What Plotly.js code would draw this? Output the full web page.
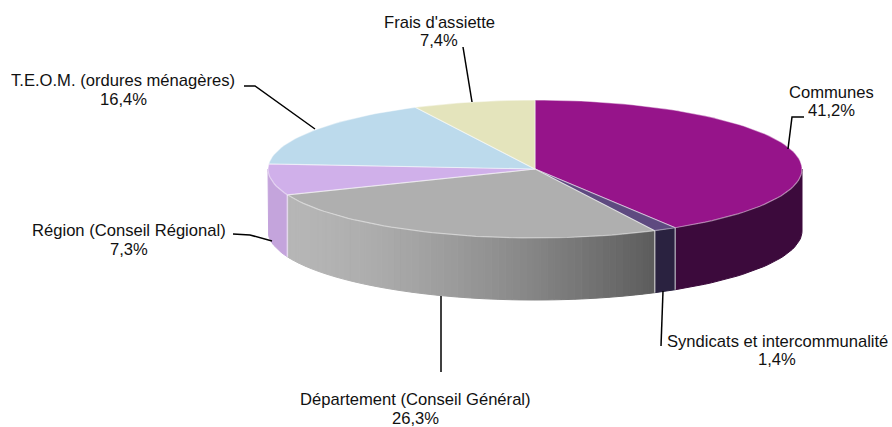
<!DOCTYPE html>
<html>
<head>
<meta charset="utf-8">
<script src="https://cdn.plot.ly/plotly-3.0.1.min.js"></script>
<style>html,body{margin:0;padding:0;background:#fff}#chart{width:892px;height:427px}</style>
</head>
<body>
<div id="chart"></div>
<script>
// Data, clockwise from the top of the pie
const categories = ["Communes", "Syndicats et intercommunalité", "Département (Conseil Général)", "Région (Conseil Régional)", "T.E.O.M. (ordures ménagères)", "Frais d'assiette"];
const shares = [41.2, 1.4, 26.3, 7.3, 16.4, 7.4];

// Styles
const topColors = ["#96148A", "#5E4A80", "#AFAFAF", "#D0B0EA", "#BCDAEC", "#E4E4BC"];
const wallColors = ["#3C0A3C", "#2A2240", null, "#C4A4DC", "#A0B8C8", "#C0C09C"];
const grayFrom = 182, grayDrop = 90;
const edge = "rgba(255,255,255,0.45)";
const labelSize = 16.6, lineGap = 18.5, labelBox = 17;

// Pie geometry
const cx = 535, cy = 169, rx = 267, ry = 69, depth = 62;

// Label and leader placement
const labelX = [831, 777, 415, 129, 123, 439];
const labelY = [101.5, 350.5, 409.2, 240, 90, 31.5];
const leaderX = [[804, 792, 788], [663, 661], [441, 441], [233, 250, 272], [244, 255, 315], [463, 472]];
const leaderY = [[117, 117, 149], [291, 346], [296, 372], [234, 235, 241], [86, 86, 129], [47, 102]];

const px = a => cx + rx * Math.sin(a * Math.PI / 180);
const py = a => cy - ry * Math.cos(a * Math.PI / 180);
const total = shares.reduce((s, v) => s + v, 0);
let run = 0;
const spans = shares.map(v => { const a0 = run / total * 360; run += v; return [a0, run / total * 360]; });

function arc(a0, a1) {
  const n = Math.max(2, Math.ceil((a1 - a0) / 2)), out = [];
  for (let i = 0; i <= n; i++) out.push(a0 + (a1 - a0) * i / n);
  return out;
}
const traces = [];
function poly(xs, ys, fill, line, w) {
  traces.push({type: "scatter", mode: "lines", x: xs, y: ys, fill: "toself", fillcolor: fill,
    line: {color: line || fill, width: w === undefined ? 1 : w}, hoverinfo: "skip", showlegend: false});
}
function wall(a0, a1, color) {
  const as = arc(a0, a1);
  const xs = as.map(px).concat(as.slice().reverse().map(px));
  const ys = as.map(a => py(a)).concat(as.slice().reverse().map(a => py(a) + depth));
  xs.push(xs[0]); ys.push(ys[0]);
  poly(xs, ys, color);
}
// Side walls: only the front half of the disc shows
spans.forEach(([a0, a1], i) => {
  const s = Math.max(a0, 90), e = Math.min(a1, 270);
  if (e <= s) return;
  if (wallColors[i]) { wall(s, e, wallColors[i]); return; }
  // Shaded wall: strips darken towards the right
  const strips = Math.round((e - s) / 1.5);
  for (let k = 0; k < strips; k++) {
    const t = (k + 0.5) / strips;
    const toRight = (px(s + (e - s) * t) - px(e)) / (px(s) - px(e));
    const g = Math.round(grayFrom - grayDrop * Math.pow(toRight, 1.5));
    wall(s + (e - s) * k / strips, s + (e - s) * (k + 1) / strips, `rgb(${g},${g},${g})`);
  }
});
// Light seams between walls
spans.forEach(([a0]) => {
  if (a0 > 90 && a0 < 270) {
    traces.push({type: "scatter", mode: "lines", x: [px(a0), px(a0)], y: [py(a0), py(a0) + depth],
      line: {color: "rgba(255,255,255,0.55)", width: 1.5}, hoverinfo: "skip", showlegend: false});
  }
});
// Top slices
spans.forEach(([a0, a1], i) => {
  const as = arc(a0, a1);
  poly([cx].concat(as.map(px), [cx]), [cy].concat(as.map(py), [cy]), topColors[i], edge, 1.2);
});

const labelFont = {family: "Liberation Sans, Arial, sans-serif", size: labelSize, color: "#111"};
const annotations = [];
categories.forEach((c, i) => {
  [c, shares[i].toFixed(1).replace(".", ",") + "%"].forEach((text, k) => annotations.push({
    x: labelX[i], y: labelY[i] + (k - 0.5) * lineGap, xref: "x", yref: "y", showarrow: false,
    xanchor: "center", yanchor: "middle", height: labelBox, borderpad: 0, text: text, font: labelFont
  }));
});
leaderX.forEach((xs, i) => traces.push({type: "scatter", mode: "lines", x: xs, y: leaderY[i],
  line: {color: "#000", width: 1.5}, hoverinfo: "skip", showlegend: false}));

Plotly.newPlot("chart", traces, {
  width: 892, height: 427, margin: {l: 0, r: 0, t: 0, b: 0},
  paper_bgcolor: "#fff", plot_bgcolor: "#fff", showlegend: false,
  xaxis: {range: [0, 892], visible: false, fixedrange: true},
  yaxis: {range: [427, 0], visible: false, fixedrange: true},
  annotations: annotations
}, {displayModeBar: false, staticPlot: true});
</script>
</body>
</html>
